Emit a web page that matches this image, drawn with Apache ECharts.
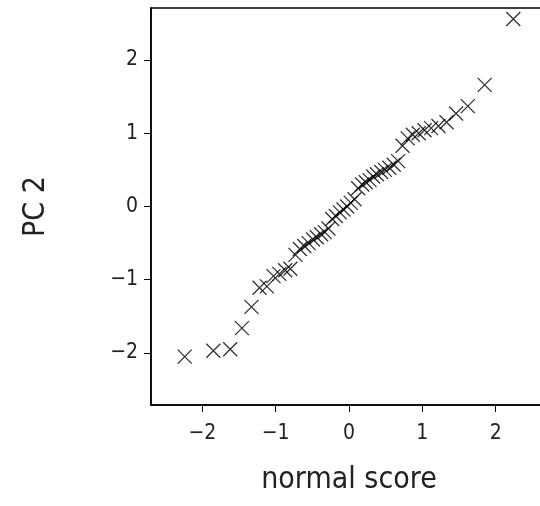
<!DOCTYPE html>
<html>
<head>
<meta charset="utf-8">
<script src="https://cdn.jsdelivr.net/npm/echarts@6/dist/echarts.min.js"></script>
<style>
  html, body { margin: 0; padding: 0; background: #fff; }
  #chart { width: 540px; height: 506px; }
</style>
</head>
<body>
<div id="chart"></div>
<script>
// normal scores (x) and sorted PC 2 scores (y)
const normalScore = [
  -2.24, -1.85, -1.62, -1.46, -1.33, -1.22, -1.12, -1.03, -0.95, -0.87,
  -0.80, -0.73, -0.67, -0.61, -0.55, -0.49, -0.44, -0.38, -0.33, -0.28,
  -0.23, -0.18, -0.125, -0.075, -0.025, 0.025, 0.075, 0.125, 0.18, 0.23,
  0.28, 0.33, 0.38, 0.44, 0.49, 0.55, 0.61, 0.67, 0.73, 0.80,
  0.87, 0.95, 1.03, 1.12, 1.22, 1.33, 1.46, 1.62, 1.85, 2.24
]
const pc2 = [
  -2.05, -1.97, -1.95, -1.66, -1.37, -1.11, -1.09, -0.95, -0.92, -0.87,
  -0.85, -0.66, -0.58, -0.54, -0.50, -0.45, -0.42, -0.38, -0.35, -0.30,
  -0.17, -0.13, -0.08, -0.04, 0.00, 0.05, 0.10, 0.25, 0.30, 0.33,
  0.36, 0.41, 0.44, 0.47, 0.50, 0.53, 0.57, 0.62, 0.83, 0.93,
  0.98, 1.00, 1.04, 1.07, 1.10, 1.15, 1.27, 1.37, 1.66, 2.56
]
const xTicks = [-2, -1, 0, 1, 2]
const yTicks = [-2, -1, 0, 1, 2]

const font = "'DejaVu Sans Condensed', 'Liberation Sans Narrow', sans-serif"
const minus = v => String(v).replace('-', '\u2212')

const chart = echarts.init(document.getElementById('chart'))
chart.setOption({
  animation: false,
  grid: {
    left: 151,
    top: 8,
    width: 396,
    height: 397,
    outerBoundsMode: 'none',
    containLabel: false,
    show: true,
    borderColor: '#000',
    borderWidth: 1.5
  },
  xAxis: {
    type: 'value',
    min: -2.7,
    max: 2.7,
    name: 'normal score',
    nameLocation: 'middle',
    nameGap: 60,
    nameTextStyle: { fontFamily: font, fontSize: 30, fontWeight: 200, color: '#222' },
    axisLine: { show: true, onZero: false, lineStyle: { color: '#000', width: 1.5 } },
    axisTick: { show: true, length: 7, customValues: xTicks, lineStyle: { color: '#000' } },
    axisLabel: {
      customValues: xTicks,
      margin: 18,
      fontFamily: font,
      fontSize: 21,
      fontWeight: 200,
      color: '#222',
      formatter: minus
    },
    splitLine: { show: false }
  },
  yAxis: {
    type: 'value',
    min: -2.71,
    max: 2.71,
    name: 'PC 2',
    nameLocation: 'middle',
    nameGap: 100,
    nameRotate: 90,
    nameTextStyle: { fontFamily: font, fontSize: 30, fontWeight: 200, color: '#222' },
    axisLine: { show: true, onZero: false, lineStyle: { color: '#000', width: 1.5 } },
    axisTick: { show: true, length: 7, customValues: yTicks, lineStyle: { color: '#000' } },
    axisLabel: {
      customValues: yTicks,
      margin: 13,
      fontFamily: font,
      fontSize: 21,
      fontWeight: 200,
      color: '#222',
      formatter: minus
    },
    splitLine: { show: false }
  },
  series: [
    {
      type: 'scatter',
      data: normalScore.map((x, i) => [x, pc2[i]]),
      symbol: 'path://M0,0L10,10M10,0L0,10',
      symbolSize: 14,
      itemStyle: { color: 'transparent', borderColor: '#000', borderWidth: 1.3 }
    }
  ]
})
</script>
</body>
</html>
